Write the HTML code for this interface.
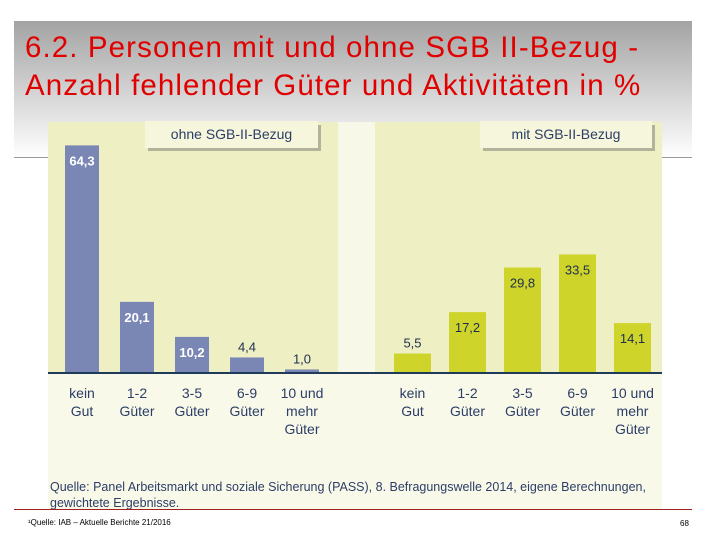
<!DOCTYPE html>
<html><head><meta charset="utf-8"><style>
body{margin:0;width:720px;height:540px;background:#fff;position:relative;overflow:hidden;font-family:"Liberation Sans",sans-serif}
.abs{position:absolute}
</style></head><body>
<div class="abs" style="left:14px;top:21px;width:678px;height:137px;background:linear-gradient(#a3a3a3,#d6d6d6 55%,#fff 100%)"></div>
<div class="abs" style="left:14px;top:157px;width:678px;height:1px;background:#999"></div>
<div class="abs" style="left:25px;top:29px;font-size:29.5px;letter-spacing:1.1px;line-height:38px;color:#e00000;white-space:nowrap">6.2. Personen mit und ohne SGB II-Bezug -<br>Anzahl fehlender Güter und Aktivitäten in %</div>
<svg class="abs" style="left:0;top:0" width="720" height="540" id="chart">
<rect x="48" y="122" width="614" height="388" fill="#f8f8e8"/>
<rect x="48" y="122" width="290" height="252" fill="#eef0c4"/>
<rect x="375" y="122" width="287" height="252" fill="#eef0c4"/>
<rect x="48" y="374" width="614" height="136" fill="#f9f9ea"/>
<g id="legends"></g>
<g id="bars"></g>
<line x1="48" y1="373" x2="662" y2="373" stroke="#1f3a5a" stroke-width="2"/>
</svg>
<div class="abs" style="left:50px;top:479px;font-size:12.5px;line-height:16px;color:#2c3d66;white-space:nowrap">Quelle: Panel Arbeitsmarkt und soziale Sicherung (PASS), 8. Befragungswelle 2014, eigene Berechnungen,<br>gewichtete Ergebnisse.</div>
<div class="abs" style="left:14px;top:509px;width:678px;height:1px;background:#a02020"></div>
<div class="abs" style="left:28px;top:518px;font-size:8px;color:#000">¹Quelle: IAB – Aktuelle Berichte 21/2016</div>
<div class="abs" style="left:680px;top:519px;font-size:8px;color:#000">68</div>
<script>
const categories=["kein|Gut","1-2|Güter","3-5|Güter","6-9|Güter","10 und|mehr|Güter"];
const ohneValues=[64.3,20.1,10.2,4.4,1.0];
const mitValues=[5.5,17.2,29.8,33.5,14.1];
const valueLabels1=["64,3","20,1","10,2","4,4","1,0"];
const valueLabels2=["5,5","17,2","29,8","33,5","14,1"];
const NS="http://www.w3.org/2000/svg";
const base=373, scale=3.54;
function y(v){return base-v*scale;}
const g=document.getElementById('bars');
function mk(t,a){const e=document.createElementNS(NS,t);for(const k in a)e.setAttribute(k,a[k]);return e;}
function panel(vals,labels,x0,w,color,name){
  vals.forEach((v,i)=>{
    const x=x0+i*55;
    const r=mk('rect',{x:x,y:y(v),width:w,height:base-y(v),fill:color});
    
    
    g.appendChild(r);
    const h=base-y(v);
    const inside=h>24;
    const isBlue=name==='ohne';
    const t=mk('text',{x:x+(i===0&&isBlue?17:w/2),y:inside?y(v)+20:y(v)-6,'text-anchor':'middle','font-size':'13','font-weight':isBlue&&inside?'bold':'normal',fill:isBlue&&inside?'#fff':'#1e2e50','font-family':'Liberation Sans, sans-serif'});
    t.textContent=labels[i];
    
    
    g.appendChild(t);
    categories[i].split('|').forEach((ln,j)=>{
      const c=mk('text',{x:x+w/2,y:398+j*18,'text-anchor':'middle','font-size':'14',fill:'#2c3d66','font-family':'Liberation Sans, sans-serif'});
      c.textContent=ln;
      
      
      g.appendChild(c);
    });
  });
}
panel(ohneValues,valueLabels1,65,34,'#7a87b5','ohne');
panel(mitValues,valueLabels2,394,37,'#cfd42a','mit');
const lg=document.getElementById('legends');
[[145,173,"ohne SGB-II-Bezug","legend-ohne"],[480,172,"mit SGB-II-Bezug","legend-mit"]].forEach(([x,w,txt,n])=>{
  lg.appendChild(mk('rect',{x:x+3,y:125,width:w,height:26,fill:'#8a8a80',opacity:'0.6'}));
  const r=mk('rect',{x:x,y:121,width:w,height:27,fill:'#f6f6dc'});
  
  
  lg.appendChild(r);
  const t=mk('text',{x:x+w/2,y:139,'text-anchor':'middle','font-size':'14',fill:'#2c3d66','font-family':'Liberation Sans, sans-serif'});
  t.textContent=txt;
  
  
  lg.appendChild(t);
});
</script>
</body></html>
